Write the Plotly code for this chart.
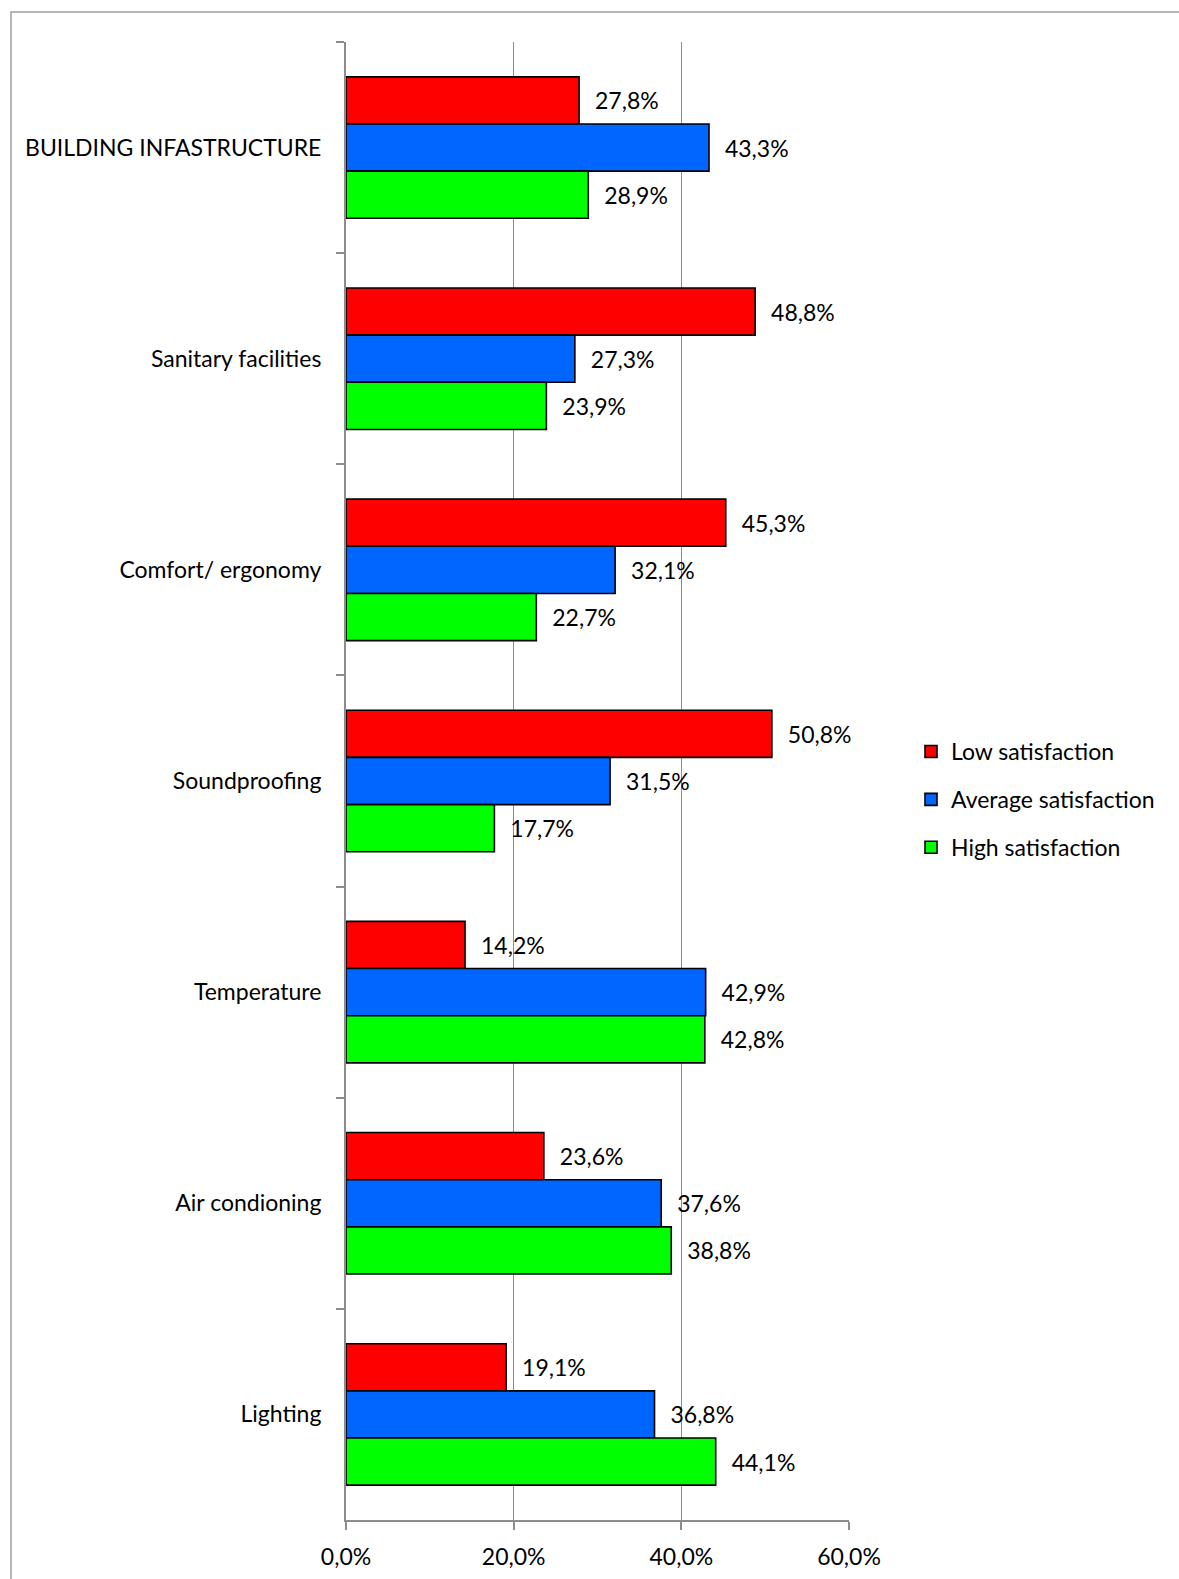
import plotly.graph_objects as go

categories = ["BUILDING INFASTRUCTURE", "Sanitary facilities", "Comfort/ ergonomy",
              "Soundproofing", "Temperature", "Air condioning", "Lighting"]
low = [27.8, 48.8, 45.3, 50.8, 14.2, 23.6, 19.1]
average = [43.3, 27.3, 32.1, 31.5, 42.9, 37.6, 36.8]
high = [28.9, 23.9, 22.7, 17.7, 42.8, 38.8, 44.1]
series_names = ["Low satisfaction", "Average satisfaction", "High satisfaction"]
series_colors = ["#FF0000", "#0066FF", "#00FF00"]
x_ticks = [0, 20, 40, 60]
x_ticktext = [f"{v:.1f}%".replace(".", ",") for v in x_ticks]

FONT = "Lato"
FS = 23

fig = go.Figure()
for name, vals, col in zip(series_names, [low, average, high], series_colors):
    fig.add_trace(go.Bar(
        y=categories, x=vals, name=name, orientation="h",
        marker=dict(color=col, line=dict(color="black", width=1.6)),
        texttemplate="\u2002\u200a%{x:.1f}%", textposition="outside",
        textfont=dict(family=FONT, size=FS, color="black"),
        constraintext="none", cliponaxis=False,
        legendgroup=name,
    ))

W, H = 1179, 1579
L, R, T, B = 346, 330, 42, 59
pw = W - L - R
ph = H - T - B

def px_x(p):
    return (p - L) / pw

def px_y(p):
    return (H - B - p) / ph

fig.update_layout(
    width=W, height=H,
    margin=dict(l=L, r=R, t=T, b=B, autoexpand=False),
    paper_bgcolor="white", plot_bgcolor="white",
    barmode="group", bargap=0.33, bargroupgap=0,
    separators=",.",
    font=dict(family=FONT, size=FS, color="black"),
    showlegend=True,
    legend=dict(
        x=px_x(911), y=px_y(730), xanchor="left", yanchor="top",
        font=dict(family=FONT, size=FS, color="black"),
        tracegroupgap=15, itemwidth=30, bgcolor="rgba(0,0,0,0)",
        traceorder="grouped",
    ),
    xaxis=dict(
        range=[0, 60], tickvals=x_ticks, ticktext=x_ticktext,
        showgrid=True, gridcolor="#8c8c8c", gridwidth=1.3,
        showline=True, linecolor="#8c8c8c", linewidth=2,
        ticks="outside", ticklen=8, tickcolor="#8c8c8c", tickwidth=2,
        zeroline=False, fixedrange=True, ticklabelstandoff=7, automargin=False,
        tickfont=dict(family=FONT, size=FS, color="black"),
    ),
    yaxis=dict(
        autorange="reversed", type="category",
        showline=True, linecolor="#8c8c8c", linewidth=2,
        ticks="outside", ticklen=8, tickcolor="#8c8c8c", tickwidth=2,
        tickson="boundaries", showgrid=False, ticklabelstandoff=18,
        tickfont=dict(family=FONT, size=FS, color="black"),
        fixedrange=True, automargin=False,
    ),
    shapes=[dict(
        type="rect", xref="paper", yref="paper",
        x0=px_x(11), x1=px_x(1200), y0=px_y(1600), y1=px_y(12),
        line=dict(color="#a0a0a0", width=1.5), layer="below",
    )],
)

fig.write_html("out.html")
